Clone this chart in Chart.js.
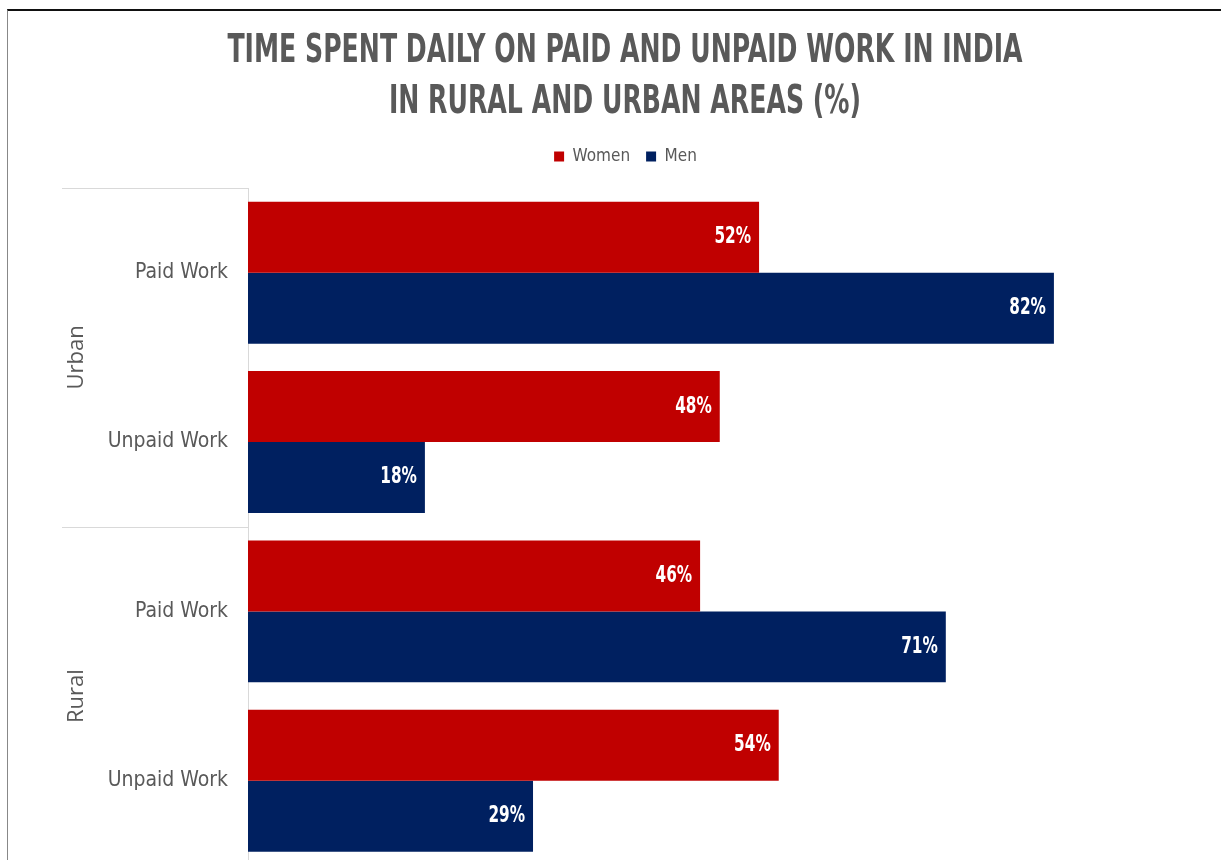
<!DOCTYPE html>
<html>
<head>
<meta charset="utf-8">
<script src="https://cdn.jsdelivr.net/npm/chart.js@4.4.1/dist/chart.umd.min.js"></script>
<style>
  html, body { margin: 0; padding: 0; background: #fff; overflow: hidden; }
  #wrap { position: relative; width: 1221px; height: 898px; }
  #workChart { position: absolute; left: 0; top: 0; }
  #frame {
    position: absolute; left: 7px; top: 9px; right: 0; bottom: 0;
    border-top: 2px solid #111; border-left: 1px solid #888;
    pointer-events: none; z-index: 2;
  }
</style>
</head>
<body>
<div id="wrap">
  <canvas id="workChart" width="1221" height="898"></canvas>
  <div id="frame"></div>
</div>
<script>
const titleLines = ['TIME SPENT DAILY ON PAID AND UNPAID WORK IN INDIA', 'IN RURAL AND URBAN AREAS (%)'];
const categories = ['Paid Work', 'Unpaid Work', 'Paid Work', 'Unpaid Work'];
const areaGroups = ['Urban', 'Urban', 'Rural', 'Rural'];
const womenValues = [52, 48, 46, 54];
const menValues = [82, 18, 71, 29];

const cond = '"DejaVu Sans Condensed", "Liberation Sans Narrow", sans-serif';
const textGrey = '#595959';

// title, drawn a bit taller than wide like the original
const tallTitle = {
  id: 'tallTitle',
  afterDraw(chart) {
    const ctx = chart.ctx;
    ctx.save();
    ctx.font = 'bold 28px ' + cond;
    ctx.fillStyle = textGrey;
    ctx.textAlign = 'center';
    ctx.textBaseline = 'middle';
    titleLines.forEach((line, i) => {
      ctx.save();
      ctx.translate(625, 52 + i * 51);
      ctx.scale(1, 1.4);
      ctx.fillText(line, 0, 0);
      ctx.restore();
    });
    ctx.restore();
  }
};

// value labels inside the end of each bar
const barLabels = {
  id: 'barLabels',
  afterDatasetsDraw(chart) {
    const ctx = chart.ctx;
    ctx.save();
    ctx.font = 'bold 17px ' + cond;
    ctx.fillStyle = '#fff';
    ctx.textAlign = 'right';
    ctx.textBaseline = 'middle';
    chart.data.datasets.forEach((ds, i) => {
      chart.getDatasetMeta(i).data.forEach((bar, j) => {
        ctx.save();
        ctx.translate(bar.x - 8, bar.y);
        ctx.scale(1, 1.35);
        ctx.fillText(ds.data[j] + '%', 0, 0);
        ctx.restore();
      });
    });
    ctx.restore();
  }
};

// Urban / Rural group labels and their separator lines
const groupLabels = {
  id: 'groupLabels',
  afterDraw(chart) {
    const ctx = chart.ctx;
    const y = chart.scales.y;
    const half = (y.getPixelForValue(1) - y.getPixelForValue(0)) / 2;
    const left = chart.chartArea.left;
    const names = [...new Set(areaGroups)];
    ctx.save();
    ctx.strokeStyle = '#d9d9d9';
    ctx.lineWidth = 1;
    names.forEach(name => {
      const first = areaGroups.indexOf(name);
      const last = areaGroups.lastIndexOf(name);
      const top = y.getPixelForValue(first) - half;
      const bottom = y.getPixelForValue(last) + half;
      [top, bottom].forEach(py => {
        ctx.beginPath();
        ctx.moveTo(62, Math.round(py) + 0.5);
        ctx.lineTo(left, Math.round(py) + 0.5);
        ctx.stroke();
      });
      ctx.save();
      ctx.translate(77, (top + bottom) / 2);
      ctx.rotate(-Math.PI / 2);
      ctx.font = '22px "Open Sans", sans-serif';
      ctx.fillStyle = textGrey;
      ctx.textAlign = 'center';
      ctx.textBaseline = 'middle';
      ctx.fillText(name, 0, 0);
      ctx.restore();
    });
    ctx.restore();
  }
};

new Chart(document.getElementById('workChart'), {
  type: 'bar',
  data: {
    labels: categories,
    datasets: [
      { label: 'Women', data: womenValues, backgroundColor: '#C00000' },
      { label: 'Men', data: menValues, backgroundColor: '#002060' }
    ]
  },
  options: {
    indexAxis: 'y',
    responsive: false,
    animation: false,
    datasets: {
      bar: { barPercentage: 1.0, categoryPercentage: 0.838 }
    },
    layout: { padding: { left: 30, right: 0, top: 132, bottom: 0 } },
    plugins: {
      title: { display: false },
      legend: {
        position: 'top',
        labels: {
          color: textGrey,
          font: { family: cond, size: 17 },
          boxWidth: 10,
          boxHeight: 10,
          padding: 16
        }
      },
      tooltip: { enabled: false }
    },
    scales: {
      x: {
        position: 'top',
        min: 0,
        max: 99,
        grid: { display: false },
        border: { display: false },
        ticks: { display: false },
        afterFit(scale) { scale.height = 13; }
      },
      y: {
        grid: { display: false, drawTicks: false },
        border: { display: true, color: '#d9d9d9', width: 1 },
        ticks: {
          color: textGrey,
          font: { family: cond, size: 21 },
          padding: 20
        },
        afterFit(scale) { scale.width = 218; }
      }
    }
  },
  plugins: [barLabels, groupLabels, tallTitle]
});
</script>
</body>
</html>
